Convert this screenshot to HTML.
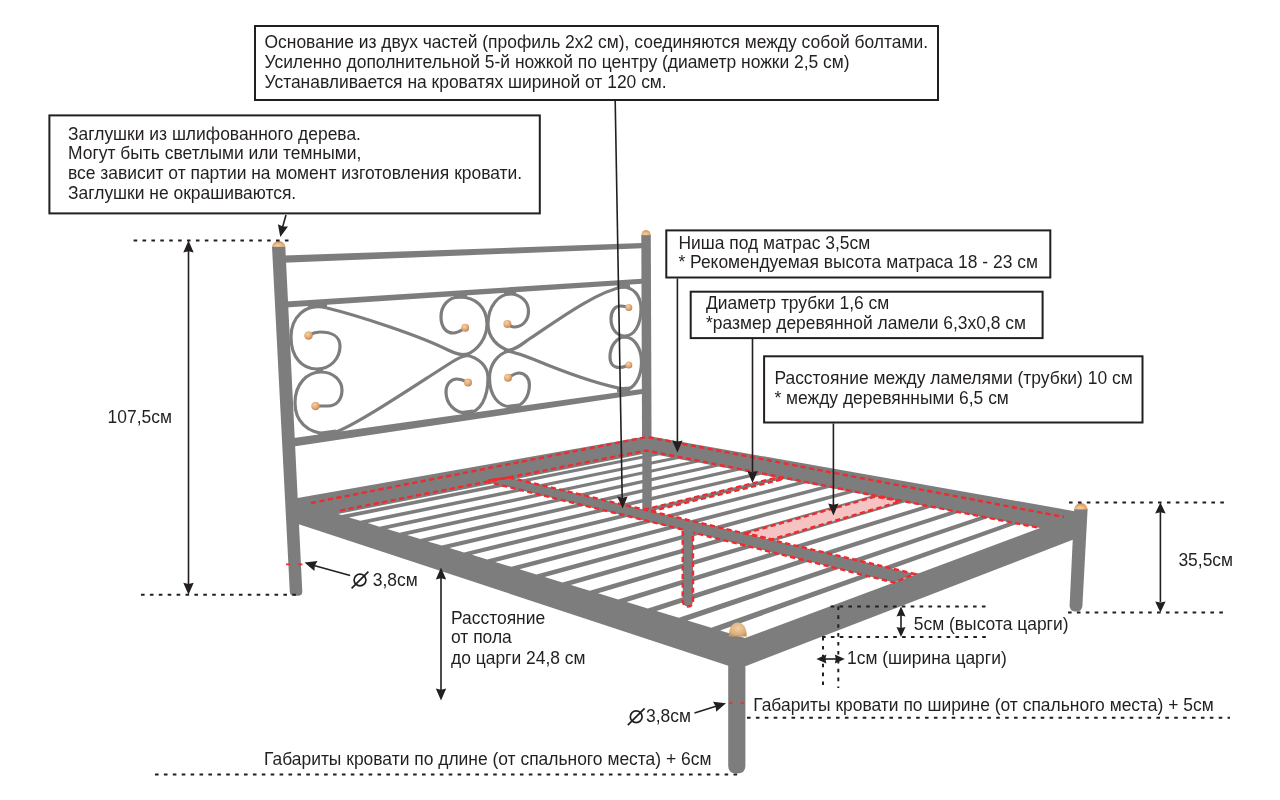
<!DOCTYPE html>
<html><head><meta charset="utf-8"><style>
html,body{margin:0;padding:0;background:#fff;}
svg{display:block;will-change:transform;}
text{font-family:"Liberation Sans",sans-serif;font-size:17.45px;fill:#231f20;}
</style></head><body>
<svg width="1280" height="800" viewBox="0 0 1280 800">
<defs>
<radialGradient id="ballg" cx="0.4" cy="0.35" r="0.7"><stop offset="0" stop-color="#f3d2ae"/><stop offset="0.6" stop-color="#e0a772"/><stop offset="1" stop-color="#b98050"/></radialGradient>
<radialGradient id="ballg2" cx="0.5" cy="0.4" r="0.65"><stop offset="0" stop-color="#f0cfa6"/><stop offset="0.7" stop-color="#ddb07c"/><stop offset="1" stop-color="#c4935f"/></radialGradient>
<radialGradient id="capg" cx="0.45" cy="0.75" r="0.75"><stop offset="0" stop-color="#f4d3ad"/><stop offset="0.55" stop-color="#e2ab74"/><stop offset="1" stop-color="#c98a52"/></radialGradient>
</defs>
<rect width="1280" height="800" fill="#fff"/>
<polygon points="641.3,235 650.8,235 651.8,510 642.3,510" fill="#7d7d7d"/>
<polygon points="284,255.6 642,243 642,248.2 284,262.7" fill="#7d7d7d"/>
<polygon points="286,301.5 642,278.8 642,283.8 286,307.6" fill="#7d7d7d"/>
<polygon points="292,438.3 642,389 642,394 292,446.8" fill="#7d7d7d"/>
<path d="M 327 308 C 305 302, 291 318, 291 337 C 291 357, 302 369, 317 369 C 331 369, 340 358, 340 346 C 340 336, 331 332, 320 332 C 315 332, 311 334, 309 335" fill="none" stroke="#7d7d7d" stroke-width="3.2"/>
<path d="M 330 434 C 306 434, 295 420, 295 403 C 295 384, 307 372, 321 372 C 334 372, 342 381, 342 390 C 342 400, 336 406, 328 406 L 316 406" fill="none" stroke="#7d7d7d" stroke-width="3.2"/>
<path d="M 327 308 C 360 316, 420 336, 448 350 C 456 354, 461 355, 469 355.5" fill="none" stroke="#7d7d7d" stroke-width="3.2"/>
<path d="M 330 434 C 350 430, 420 382, 452 362 C 458 358, 462 356, 469 355.5" fill="none" stroke="#7d7d7d" stroke-width="3.2"/>
<path d="M 466 355 C 478 350, 487 338, 487 324 C 487 307, 475 297, 460 297 C 448 297, 441 306, 441 317 C 441 328, 447 333, 453 333 C 458 333, 462 330, 465 328" fill="none" stroke="#7d7d7d" stroke-width="3.2"/>
<path d="M 510 351 C 497 347, 488 337, 488 324 C 488 306, 499 294, 510 294 C 521 294, 528.5 302, 528.5 311 C 528.5 321, 522 327, 514 327 C 511 327, 509 325, 507 324" fill="none" stroke="#7d7d7d" stroke-width="3.2"/>
<path d="M 466 355 C 479 358, 488 366, 488 378 C 488 398, 480 413, 467 413 C 454 413, 446 403, 446 392 C 446 384, 451 379, 457 379 C 462 379, 465 381, 468 382.5" fill="none" stroke="#7d7d7d" stroke-width="3.2"/>
<path d="M 509 351 C 497 354, 489.5 365, 489.5 378 C 489.5 395, 498 407, 512 407 C 523 407, 529.4 396, 529.4 385 C 529.4 378, 525 373, 519 373 C 515 373, 511 376, 508 377.7" fill="none" stroke="#7d7d7d" stroke-width="3.2"/>
<path d="M 506 351 C 515 350.5, 522 344, 530 338.5 C 555 322, 595 292, 624 286.5" fill="none" stroke="#7d7d7d" stroke-width="3.2"/>
<path d="M 506 351 C 515 351.5, 530 358, 545 364 C 575 376, 600 385, 626 389.5" fill="none" stroke="#7d7d7d" stroke-width="3.2"/>
<path d="M 622 287 C 634 287, 641 296, 641 309 C 641 325, 634 336, 625 336 C 616 336, 611 328, 611 319 C 611 311, 615 306, 620 306 C 624 306, 627 307, 629 307.4" fill="none" stroke="#7d7d7d" stroke-width="3.2"/>
<path d="M 624 390 C 634 390, 641.5 377, 641.5 362 C 641.5 348, 634 337, 625 337 C 616 337, 610 347, 610 357 C 610 364, 614 367.5, 619 367.5 C 623 367.5, 626 366, 629 365" fill="none" stroke="#7d7d7d" stroke-width="3.2"/>
<line x1="308" y1="306" x2="327" y2="305" stroke="#7d7d7d" stroke-width="4"/>
<line x1="316" y1="370" x2="323" y2="370.5" stroke="#7d7d7d" stroke-width="4"/>
<line x1="318" y1="434.5" x2="336" y2="432" stroke="#7d7d7d" stroke-width="5"/>
<line x1="454" y1="297" x2="467" y2="296" stroke="#7d7d7d" stroke-width="4"/>
<line x1="504" y1="294" x2="516" y2="292.5" stroke="#7d7d7d" stroke-width="4"/>
<line x1="461" y1="355" x2="470" y2="354.5" stroke="#7d7d7d" stroke-width="4"/>
<line x1="504" y1="351" x2="513" y2="350.5" stroke="#7d7d7d" stroke-width="4"/>
<line x1="462" y1="413.5" x2="473" y2="412" stroke="#7d7d7d" stroke-width="5"/>
<line x1="507" y1="407.5" x2="519" y2="406" stroke="#7d7d7d" stroke-width="5"/>
<line x1="617" y1="287" x2="630" y2="286" stroke="#7d7d7d" stroke-width="4"/>
<line x1="621" y1="337" x2="629" y2="337" stroke="#7d7d7d" stroke-width="3"/>
<line x1="617" y1="390" x2="630" y2="389" stroke="#7d7d7d" stroke-width="5"/>
<circle cx="308.5" cy="335.5" r="4.3" fill="url(#ballg)"/>
<circle cx="315.5" cy="406" r="4.3" fill="url(#ballg)"/>
<circle cx="465.2" cy="327.7" r="4" fill="url(#ballg)"/>
<circle cx="507.4" cy="324" r="4" fill="url(#ballg)"/>
<circle cx="468" cy="382.5" r="4" fill="url(#ballg)"/>
<circle cx="508" cy="377.7" r="4" fill="url(#ballg)"/>
<circle cx="628.8" cy="307.4" r="3.5" fill="url(#ballg)"/>
<circle cx="628.8" cy="365" r="3.5" fill="url(#ballg)"/>
<path d="M 1074.2 509 L 1087.6 509 L 1082.4 606 Q 1082 611.5 1076 611.5 Q 1070 611.5 1069.6 606 Z" fill="#7d7d7d"/>
<path d="M 728.2 640 L 745.4 640 L 745.4 766 Q 745.4 773.5 736.8 773.5 Q 728.2 773.5 728.2 766 Z" fill="#7d7d7d"/>
<path d="M 272 246.6 L 285.3 246.6 L 302.3 591.5 Q 302.3 595.8 298 595.8 L 294 595.8 Q 290 595.8 289.8 591.5 Z" fill="#7d7d7d"/>
<polygon points="292,499 648,436 1076,511.4 1076,538.5 746,666 729,666 292,522" fill="#7d7d7d"/>
<polygon points="338,514 648,453 651.8,453.7 341.7,515.1" fill="#fff"/>
<polygon points="349,517.4 659.4,455.2 671,457.4 360.2,520.8" fill="#fff"/>
<polygon points="367.7,523 678.6,458.9 690.7,461.2 379.5,526.7" fill="#fff"/>
<polygon points="387.1,528.9 698.4,462.6 711,465.1 399.5,532.7" fill="#fff"/>
<polygon points="407.1,535.1 718.7,466.5 731.9,469.1 420.2,539" fill="#fff"/>
<polygon points="427.9,541.4 739.7,470.5 753.4,473.2 441.7,545.6" fill="#fff"/>
<polygon points="449.5,548 761.2,474.7 775.6,477.4 464,552.4" fill="#fff"/>
<polygon points="471.9,554.8 783.4,478.9 798.4,481.8 487.2,559.5" fill="#fff"/>
<polygon points="495.2,561.9 806.3,483.3 822,486.3 511.3,566.8" fill="#fff"/>
<polygon points="519.4,569.3 829.8,487.8 846.2,490.9 536.4,574.4" fill="#fff"/>
<polygon points="544.6,576.9 854.1,492.4 871.3,495.7 562.5,582.4" fill="#fff"/>
<polygon points="570.8,584.9 879.2,497.2 897.2,500.7 589.8,590.7" fill="#fff"/>
<polygon points="598.1,593.3 905.1,502.2 923.9,505.8 618.2,599.4" fill="#fff"/>
<polygon points="626.7,601.9 931.8,507.3 951.5,511.1 647.8,608.4" fill="#fff"/>
<polygon points="656.4,611 959.5,512.6 980.1,516.5 678.8,617.8" fill="#fff"/>
<polygon points="687.5,620.5 988,518.1 1009.6,522.2 711.3,627.7" fill="#fff"/>
<polygon points="720.1,630.4 1017.6,523.7 1040,528 745,638" fill="#fff"/>
<polygon points="488,482 509,477.5 915,574 894,582.5" fill="#7d7d7d"/>
<path d="M 682.7 525 L 693 527 L 693 600 Q 693 606.5 688 606.5 Q 682.7 606.5 682.7 600 Z" fill="#7d7d7d"/>
<polygon points="642.3,440 651.6,440 651.7,509 642.3,509" fill="#7d7d7d"/>
<polygon points="745.8,533.2 875.5,496.5 900.7,501.4 772,539.3" fill="#f6c3c3" stroke="#ee2b2f" stroke-width="2.4" stroke-dasharray="5.2 3.4"/>
<polyline points="311,503 647,437 1064,517" fill="none" stroke="#ee2b2f" stroke-width="2.4" stroke-dasharray="5.2 3.4"/>
<polyline points="340,510.6 646,450.5 1040,528" fill="none" stroke="#ee2b2f" stroke-width="2.4" stroke-dasharray="5.2 3.4"/>
<polyline points="509,477.5 915,574 894,582.5 693,532.6" fill="none" stroke="#ee2b2f" stroke-width="2.4" stroke-dasharray="5.2 3.4"/>
<polyline points="682.7,529.5 488,482" fill="none" stroke="#ee2b2f" stroke-width="2.4" stroke-dasharray="5.2 3.4"/>
<path d="M 488 480.5 L 509 477.5" stroke="#ee2b2f" stroke-width="2.4"/>
<polygon points="644.1,509.6 776.7,477.6 783.7,479 651.2,511.2" fill="none" stroke="#ee2b2f" stroke-width="2.4" stroke-dasharray="5.2 3.4"/>
<path d="M 682.7 531 L 682.7 600 Q 682.7 606.5 688 606.5 Q 693 606.5 693 600 L 693 533" fill="none" stroke="#ee2b2f" stroke-width="2.4" stroke-dasharray="5.2 3.4"/>
<line x1="286" y1="564.4" x2="302.5" y2="564.4" stroke="#ee2b2f" stroke-width="1.8" stroke-dasharray="4.2 8"/>
<line x1="729" y1="703" x2="746" y2="703" stroke="#ee2b2f" stroke-width="1.6" stroke-dasharray="3.5 8"/>
<path d="M 272 246.8 A 6.650000000000006 5.8 0 0 1 285.3 246.8 Z" fill="url(#capg)"/>
<path d="M 641.3 235.2 A 4.75 5.2 0 0 1 650.8 235.2 Z" fill="url(#capg)"/>
<path d="M 1074.2 509.5 A 6.699999999999932 6.5 0 0 1 1087.6 509.5 Z" fill="url(#capg)"/>
<path d="M 728.8 636.5 C 728.8 628, 732 622.5, 737.8 622.5 C 743.6 622.5, 746.8 628, 746.8 636.5 Z" fill="url(#ballg2)"/>
<line x1="615.2" y1="101" x2="622.2" y2="498" stroke="#231f20" stroke-width="1.6"/>
<path d="M 622.6 508.5 L 617.2 496.6 L 622.4 497.7 L 627.6 496.4 Z" fill="#231f20"/>
<line x1="286" y1="215" x2="282.3" y2="228" stroke="#231f20" stroke-width="1.6"/>
<path d="M 280.3 237 L 277.9 224.2 L 282.7 226.5 L 288 226.4 Z" fill="#231f20"/>
<line x1="677.4" y1="278.5" x2="677.4" y2="442" stroke="#231f20" stroke-width="1.6"/>
<path d="M 677.4 452.5 L 672.2 440.5 L 677.4 441.7 L 682.6 440.5 Z" fill="#231f20"/>
<line x1="752.5" y1="339" x2="752.5" y2="472" stroke="#231f20" stroke-width="1.6"/>
<path d="M 752.5 483 L 747.3 471 L 752.5 472.2 L 757.7 471 Z" fill="#231f20"/>
<line x1="833.4" y1="423.5" x2="833.4" y2="505" stroke="#231f20" stroke-width="1.6"/>
<path d="M 833.4 515.5 L 828.2 503.5 L 833.4 504.7 L 838.6 503.5 Z" fill="#231f20"/>
<line x1="133.6" y1="240.5" x2="290" y2="240.5" stroke="#231f20" stroke-width="2" stroke-dasharray="3.6 5.3"/>
<line x1="141" y1="594.8" x2="296" y2="594.8" stroke="#231f20" stroke-width="2" stroke-dasharray="3.6 5.3"/>
<line x1="188.5" y1="250" x2="188.5" y2="585" stroke="#231f20" stroke-width="1.6"/>
<path d="M 188.5 240.5 L 193.7 252.5 L 188.5 251.3 L 183.3 252.5 Z" fill="#231f20"/>
<path d="M 188.5 594.8 L 183.3 582.8 L 188.5 584 L 193.7 582.8 Z" fill="#231f20"/>
<line x1="441" y1="578" x2="441" y2="690" stroke="#231f20" stroke-width="1.6"/>
<path d="M 441 567.5 L 446.2 579.5 L 441 578.3 L 435.8 579.5 Z" fill="#231f20"/>
<path d="M 441 700.5 L 435.8 688.5 L 441 689.7 L 446.2 688.5 Z" fill="#231f20"/>
<line x1="350.2" y1="575.5" x2="314" y2="565.5" stroke="#231f20" stroke-width="1.6"/>
<path d="M 304.5 562.5 L 317.5 561.1 L 314.8 565.7 L 314.4 571 Z" fill="#231f20"/>
<line x1="694.5" y1="713" x2="716" y2="706.3" stroke="#231f20" stroke-width="1.6"/>
<path d="M 726 703.2 L 716.1 711.7 L 715.7 706.4 L 713 701.8 Z" fill="#231f20"/>
<line x1="1069" y1="502.4" x2="1226" y2="502.4" stroke="#231f20" stroke-width="2" stroke-dasharray="3.6 5.3"/>
<line x1="1068" y1="612.4" x2="1224" y2="612.4" stroke="#231f20" stroke-width="2" stroke-dasharray="3.6 5.3"/>
<line x1="1160.4" y1="512" x2="1160.4" y2="602" stroke="#231f20" stroke-width="1.6"/>
<path d="M 1160.4 502.4 L 1165.6 513.4 L 1160.4 512.3 L 1155.2 513.4 Z" fill="#231f20"/>
<path d="M 1160.4 612.4 L 1155.2 601.4 L 1160.4 602.5 L 1165.6 601.4 Z" fill="#231f20"/>
<line x1="830.6" y1="606.4" x2="988" y2="606.4" stroke="#231f20" stroke-width="2" stroke-dasharray="3.6 5.3"/>
<line x1="822" y1="637" x2="988" y2="637" stroke="#231f20" stroke-width="2" stroke-dasharray="3.6 5.3"/>
<line x1="823" y1="637" x2="823" y2="688" stroke="#231f20" stroke-width="2" stroke-dasharray="3.6 5.3"/>
<line x1="838.3" y1="606.4" x2="838.3" y2="688" stroke="#231f20" stroke-width="2" stroke-dasharray="3.6 5.3"/>
<line x1="901" y1="614" x2="901" y2="629" stroke="#231f20" stroke-width="1.6"/>
<path d="M 901 606.4 L 905.5 616.4 L 901 615.4 L 896.5 616.4 Z" fill="#231f20"/>
<path d="M 901 637 L 896.5 627 L 901 628 L 905.5 627 Z" fill="#231f20"/>
<line x1="824" y1="659" x2="837" y2="659" stroke="#231f20" stroke-width="1.6"/>
<path d="M 816.4 659 L 826.4 654.5 L 825.4 659 L 826.4 663.5 Z" fill="#231f20"/>
<path d="M 844.8 659 L 834.8 663.5 L 835.8 659 L 834.8 654.5 Z" fill="#231f20"/>
<line x1="747" y1="717.8" x2="1230" y2="717.8" stroke="#231f20" stroke-width="2" stroke-dasharray="3.6 5.3"/>
<line x1="155" y1="774.5" x2="742" y2="774.5" stroke="#231f20" stroke-width="2" stroke-dasharray="3.6 5.3"/>
<rect x="255" y="26" width="683" height="74" fill="#fff" stroke="#231f20" stroke-width="2"/>
<rect x="49.4" y="115.4" width="490.4" height="98.0" fill="#fff" stroke="#231f20" stroke-width="2"/>
<rect x="666.3" y="230.4" width="384.0" height="47.099999999999994" fill="#fff" stroke="#231f20" stroke-width="2"/>
<rect x="690.7" y="291.7" width="351.89999999999986" height="46.400000000000034" fill="#fff" stroke="#231f20" stroke-width="2"/>
<rect x="764.1" y="356.3" width="378.4" height="66.19999999999999" fill="#fff" stroke="#231f20" stroke-width="2"/>
<circle cx="360" cy="580" r="5.9" fill="none" stroke="#231f20" stroke-width="1.7"/><line x1="351.6" y1="588.4" x2="368.4" y2="571.6" stroke="#231f20" stroke-width="1.7"/>
<circle cx="636.2" cy="716.8" r="5.9" fill="none" stroke="#231f20" stroke-width="1.7"/><line x1="627.8" y1="725.2" x2="644.6" y2="708.4" stroke="#231f20" stroke-width="1.7"/>
<text x="264.5" y="48">Основание из двух частей (профиль 2х2 см), соединяются между собой болтами.</text><text x="264.5" y="68">Усиленно дополнительной 5-й ножкой по центру (диаметр ножки 2,5 см)</text><text x="264.5" y="87.6">Устанавливается на кроватях шириной от 120 см.</text><text x="68" y="139.8">Заглушки из шлифованного дерева.</text><text x="68" y="159">Могут быть светлыми или темными,</text><text x="68" y="178.6">все зависит от партии на момент изготовления кровати.</text><text x="68" y="198.9">Заглушки не окрашиваются.</text><text x="678.4" y="248.5">Ниша под матрас 3,5см</text><text x="678.4" y="268.4">* Рекомендуемая высота матраса 18 - 23 см</text><text x="706" y="309">Диаметр трубки 1,6 см</text><text x="706" y="328.8">*размер деревянной ламели 6,3х0,8 см</text><text x="774.4" y="384">Расстояние между ламелями (трубки) 10 см</text><text x="774.4" y="403.8">* между деревянными 6,5 см</text><text x="107.6" y="422.9">107,5см</text><text x="372.8" y="586">3,8см</text><text x="451" y="623.5">Расстояние</text><text x="451" y="643.2">от пола</text><text x="451" y="663.7">до царги 24,8 см</text><text x="1178.4" y="565.6">35,5см</text><text x="913.8" y="630.2">5см (высота царги)</text><text x="847" y="663.5">1см (ширина царги)</text><text x="753.2" y="710.6">Габариты кровати по ширине (от спального места) + 5см</text><text x="646" y="722.2">3,8см</text><text x="264" y="765.2">Габариты кровати по длине (от спального места) + 6см</text>
</svg>
</body></html>
